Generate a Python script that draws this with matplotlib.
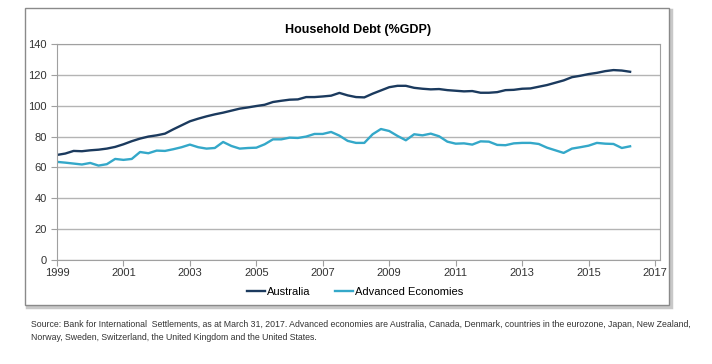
import numpy as np
import matplotlib.pyplot as plt
from matplotlib.patches import Rectangle

plt.rcParams['font.family'] = ['Liberation Sans', 'DejaVu Sans']

# quarterly, 1999 Q1 .. 2016 Q2
quarters = 1999 + np.arange(70) * 0.25

australia = [68.1, 69.0, 70.7, 70.5, 71.1, 71.5, 72.2, 73.3,
             75.0, 77.0, 78.7, 80.0, 80.8, 81.9, 84.7, 87.3,
             89.9, 91.6, 93.1, 94.4, 95.5, 96.8, 98.1, 98.9,
             99.8, 100.6, 102.4, 103.2, 103.9, 104.1, 105.6, 105.6,
             106.0, 106.5, 108.3, 106.7, 105.6, 105.4, 107.8, 109.9,
             112.0, 112.9, 112.9, 111.6, 111.0, 110.6, 110.8, 110.1,
             109.7, 109.3, 109.5, 108.4, 108.4, 108.8, 110.1, 110.3,
             111.0, 111.2, 112.3, 113.4, 114.9, 116.4, 118.5, 119.4,
             120.5, 121.3, 122.4, 123.1, 122.8, 122.0]

advanced = [63.6, 63.1, 62.5, 61.9, 62.9, 61.2, 62.1, 65.5,
            64.9, 65.5, 70.0, 69.2, 70.9, 70.7, 71.8, 73.1,
            74.8, 73.1, 72.2, 72.6, 76.5, 73.9, 72.2, 72.6,
            72.8, 75.0, 78.2, 78.2, 79.3, 79.1, 80.0, 81.7,
            81.7, 83.0, 80.6, 77.2, 75.9, 75.9, 81.5, 84.9,
            83.6, 80.4, 77.6, 81.5, 80.8, 81.9, 80.2, 76.7,
            75.4, 75.6, 74.8, 76.9, 76.7, 74.6, 74.4, 75.6,
            75.9, 75.9, 75.2, 72.8, 71.1, 69.4, 72.2, 73.1,
            74.1, 75.9, 75.4, 75.2, 72.6, 73.7]

year_ticks = list(range(1999, 2018, 2))
y_ticks = list(range(0, 141, 20))

fig = plt.figure(figsize=(7.12, 3.64), dpi=100)

# outer chart frame (behind everything)
fig.patches.append(Rectangle((27/712, 1 - 307/364), 644/712, 297/364,
                             transform=fig.transFigure, fill=False,
                             edgecolor='#c8c8c8', linewidth=2.5, zorder=-2))
fig.patches.append(Rectangle((25/712, 1 - 305/364), 644/712, 297/364,
                             transform=fig.transFigure, facecolor='white',
                             edgecolor='#8a8a8a', linewidth=1, zorder=-1))

ax = fig.add_axes([57/712, 1 - 260/364, 603/712, 216/364])
ax.set_zorder(2)
ax.plot(quarters, australia, color='#1b3a5e', lw=1.7, label='Australia')
ax.plot(quarters, advanced, color='#34a8c9', lw=1.7, label='Advanced Economies')

ax.set_xlim(1999, 2017.15)
ax.set_ylim(0, 140)
ax.set_xticks(year_ticks)
ax.set_yticks(y_ticks)
ax.grid(axis='y', color='#b4b4b4', lw=1)
ax.set_axisbelow(True)
for s in ax.spines.values():
    s.set_color('#a0a0a0')
ax.tick_params(labelsize=8, colors='#a0a0a0', labelcolor='#333333', length=4)
ax.tick_params(axis='x', pad=2)

ax.set_title('Household Debt (%GDP)', fontsize=9, fontweight='bold', pad=8)

leg = fig.legend(loc='center', bbox_to_anchor=(355/712, 1 - 292/364), ncol=2,
                 frameon=False, fontsize=8, handlelength=1.6, handletextpad=0.2,
                 columnspacing=2.2)
leg.set_zorder(3)

src = ("Source: Bank for International  Settlements, as at March 31, 2017. Advanced economies are Australia, "
       "Canada, Denmark, countries in the eurozone, Japan, New Zealand,\n"
       "Norway, Sweden, Switzerland, the United Kingdom and the United States.")
fig.text(31/712, 1 - 320/364, src, fontsize=6.35, va='top', ha='left',
         color='#333333', linespacing=1.55,
         family=['Liberation Sans Narrow', 'Liberation Sans', 'DejaVu Sans'])

fig.savefig('out.png', dpi=100)
